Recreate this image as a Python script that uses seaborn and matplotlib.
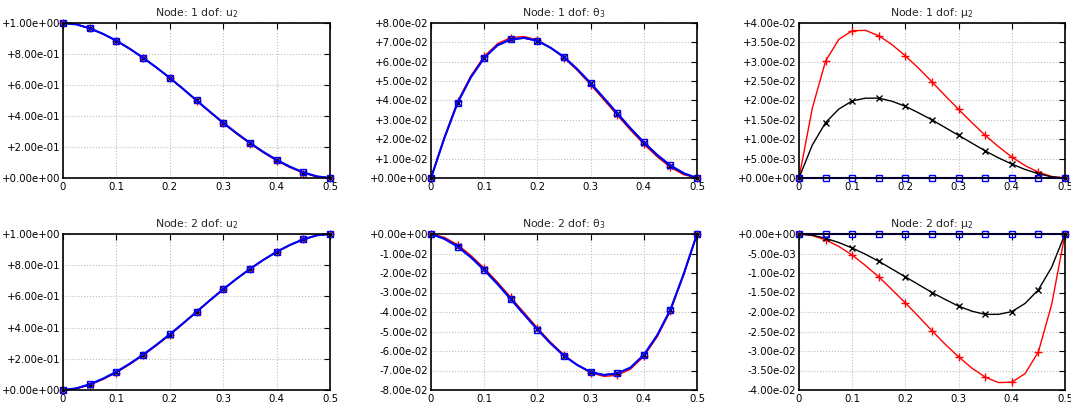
import matplotlib
matplotlib.use('Agg')
import matplotlib.pyplot as plt
import seaborn as sns
import numpy as np
from matplotlib.ticker import FuncFormatter, MultipleLocator

# x grid for the curves (markers every second point)
x = [0.0, 0.025, 0.05, 0.075, 0.1, 0.125, 0.15, 0.175, 0.2, 0.225, 0.25,
     0.275, 0.3, 0.325, 0.35, 0.375, 0.4, 0.425, 0.45, 0.475, 0.5]

# Node 1, u2
n1_u2_red = [1.000, 0.991, 0.965, 0.929, 0.885, 0.833, 0.775, 0.712, 0.645, 0.573, 0.499,
             0.425, 0.353, 0.285, 0.222, 0.164, 0.112, 0.068, 0.032, 0.008, 0.000]
n1_u2_black = [1.000, 0.991, 0.965, 0.929, 0.885, 0.833, 0.775, 0.712, 0.645, 0.574, 0.500,
               0.427, 0.355, 0.288, 0.225, 0.167, 0.115, 0.071, 0.035, 0.010, 0.000]
n1_u2_blue = [1.000, 0.991, 0.966, 0.930, 0.886, 0.834, 0.776, 0.713, 0.646, 0.575, 0.501,
              0.428, 0.357, 0.290, 0.227, 0.169, 0.117, 0.073, 0.037, 0.011, 0.000]

# Node 1, theta3
n1_t3_red = [0.0, 0.0210, 0.0395, 0.0528, 0.0628, 0.0693, 0.0725, 0.0730, 0.0712, 0.0672, 0.0620,
             0.0555, 0.0482, 0.0403, 0.0325, 0.0247, 0.0175, 0.0110, 0.0055, 0.0017, 0.0]
n1_t3_black = [0.0, 0.0205, 0.0388, 0.0520, 0.0620, 0.0685, 0.0715, 0.0722, 0.0708, 0.0671, 0.0624,
               0.0560, 0.0488, 0.0410, 0.0332, 0.0254, 0.0182, 0.0117, 0.0062, 0.0023, 0.0]
n1_t3_blue = [0.0, 0.0205, 0.0388, 0.0520, 0.0620, 0.0685, 0.0715, 0.0723, 0.0708, 0.0672, 0.0625,
              0.0562, 0.0490, 0.0413, 0.0335, 0.0257, 0.0185, 0.0120, 0.0065, 0.0025, 0.0]

# Node 1, mu2
n1_m2_red = [0.0, 0.0180, 0.0302, 0.0358, 0.0380, 0.0381, 0.0367, 0.0344, 0.0315, 0.0283, 0.0248,
             0.0212, 0.0177, 0.0143, 0.0110, 0.0081, 0.0054, 0.0032, 0.0015, 0.0004, 0.0]
n1_m2_black = [0.0, 0.0085, 0.0143, 0.0178, 0.0199, 0.0206, 0.0206, 0.0198, 0.0185, 0.0168, 0.0150,
               0.0130, 0.0110, 0.0090, 0.0070, 0.0052, 0.0036, 0.0022, 0.0011, 0.0003, 0.0]
n1_m2_blue = [0.0] * 21

# Node 2, u2
n2_u2_red = [0.000, 0.008, 0.032, 0.068, 0.112, 0.164, 0.222, 0.285, 0.353, 0.425, 0.499,
             0.573, 0.645, 0.712, 0.775, 0.833, 0.885, 0.929, 0.965, 0.991, 1.000]
n2_u2_black = [0.000, 0.010, 0.035, 0.071, 0.115, 0.167, 0.225, 0.288, 0.355, 0.427, 0.500,
               0.574, 0.645, 0.712, 0.775, 0.833, 0.885, 0.929, 0.965, 0.991, 1.000]
n2_u2_blue = [0.000, 0.011, 0.037, 0.073, 0.117, 0.169, 0.227, 0.290, 0.357, 0.428, 0.501,
              0.575, 0.646, 0.713, 0.776, 0.834, 0.886, 0.930, 0.966, 0.991, 1.000]

# Node 2, theta3
n2_t3_red = [0.0, -0.0017, -0.0055, -0.0110, -0.0175, -0.0247, -0.0325, -0.0403, -0.0482, -0.0555, -0.0620,
             -0.0672, -0.0712, -0.0730, -0.0725, -0.0693, -0.0628, -0.0528, -0.0395, -0.0210, 0.0]
n2_t3_black = [0.0, -0.0023, -0.0062, -0.0117, -0.0182, -0.0254, -0.0332, -0.0410, -0.0488, -0.0560, -0.0624,
               -0.0671, -0.0708, -0.0722, -0.0715, -0.0685, -0.0620, -0.0520, -0.0388, -0.0205, 0.0]
n2_t3_blue = [0.0, -0.0025, -0.0065, -0.0120, -0.0185, -0.0257, -0.0335, -0.0413, -0.0490, -0.0562, -0.0625,
              -0.0672, -0.0708, -0.0723, -0.0715, -0.0685, -0.0620, -0.0520, -0.0388, -0.0205, 0.0]

# Node 2, mu2
n2_m2_red = [0.0, -0.0004, -0.0015, -0.0032, -0.0054, -0.0081, -0.0110, -0.0143, -0.0177, -0.0212, -0.0248,
             -0.0283, -0.0315, -0.0344, -0.0367, -0.0381, -0.0380, -0.0358, -0.0302, -0.0180, 0.0]
n2_m2_black = [0.0, -0.0003, -0.0011, -0.0022, -0.0036, -0.0052, -0.0070, -0.0090, -0.0110, -0.0130, -0.0150,
               -0.0168, -0.0185, -0.0198, -0.0206, -0.0206, -0.0199, -0.0178, -0.0143, -0.0085, 0.0]
n2_m2_blue = [0.0] * 21

titles = ['Node: 1 dof: u$_2$', 'Node: 1 dof: θ$_3$', 'Node: 1 dof: μ$_2$',
          'Node: 2 dof: u$_2$', 'Node: 2 dof: θ$_3$', 'Node: 2 dof: μ$_2$']
panels = [
    (n1_u2_red, n1_u2_black, n1_u2_blue, (0.0, 1.0), 0.2),
    (n1_t3_red, n1_t3_black, n1_t3_blue, (0.0, 0.08), 0.01),
    (n1_m2_red, n1_m2_black, n1_m2_blue, (0.0, 0.04), 0.005),
    (n2_u2_red, n2_u2_black, n2_u2_blue, (0.0, 1.0), 0.2),
    (n2_t3_red, n2_t3_black, n2_t3_blue, (-0.08, 0.0), 0.01),
    (n2_m2_red, n2_m2_black, n2_m2_blue, (-0.04, 0.0), 0.005),
]

sns.set_style('white')
plt.rcParams['font.family'] = ['DejaVu Sans']
plt.rcParams['mathtext.default'] = 'regular'

W, H = 1071, 407
fig = plt.figure(figsize=(W / 100, H / 100), dpi=100)

# axes boxes in pixels: (left, right, top, bottom)
col_px = [(63, 330), (431, 697), (799, 1065)]
row_px = [(23, 178), (234, 390)]

for i, (red, black, blue, ylim, ystep) in enumerate(panels):
    r, c = divmod(i, 3)
    l, rr = col_px[c]
    t, b = row_px[r]
    ax = fig.add_axes([l / W, 1 - b / H, (rr - l) / W, (b - t) / H])

    sns.lineplot(x=x, y=red, ax=ax, color='#ff0000', lw=1.0, marker='+', markersize=6,
                 mew=1.0, mec='#ff0000', markevery=2, clip_on=False)
    sns.lineplot(x=x, y=black, ax=ax, color='#000000', lw=1.0, marker='x', markersize=5,
                 mew=1.0, mec='#000000', markevery=2, clip_on=False)
    sns.lineplot(x=x, y=blue, ax=ax, color='#0000ff', lw=1.5, marker='s', markersize=5,
                 mew=1.0, mec='#0000ff', mfc='none', markevery=2, clip_on=False)

    ax.set_xlim(0, 0.5)
    ax.set_ylim(*ylim)
    ax.xaxis.set_major_locator(MultipleLocator(0.1))
    ax.yaxis.set_major_locator(MultipleLocator(ystep))
    ax.xaxis.set_major_formatter(FuncFormatter(lambda v, p: f'{v:g}' if abs(v) > 1e-9 else '0'))
    ax.yaxis.set_major_formatter(FuncFormatter(lambda v, p: f'{(0.0 if abs(v) < 1e-12 else v):+.2e}'))
    ax.tick_params(direction='in', length=4, width=0.8, top=True, right=True,
                   labelsize=7.3, colors='black')
    ax.tick_params(axis='y', pad=2)
    ax.tick_params(axis='x', pad=3)
    ax.grid(True, ls=':', color='#bdbdbd', lw=0.8)
    for s in ax.spines.values():
        s.set_color('black')
        s.set_linewidth(1.2)
    ax.set_title(titles[i], fontsize=7.8, pad=5)

fig.savefig('out.png', dpi=100)
